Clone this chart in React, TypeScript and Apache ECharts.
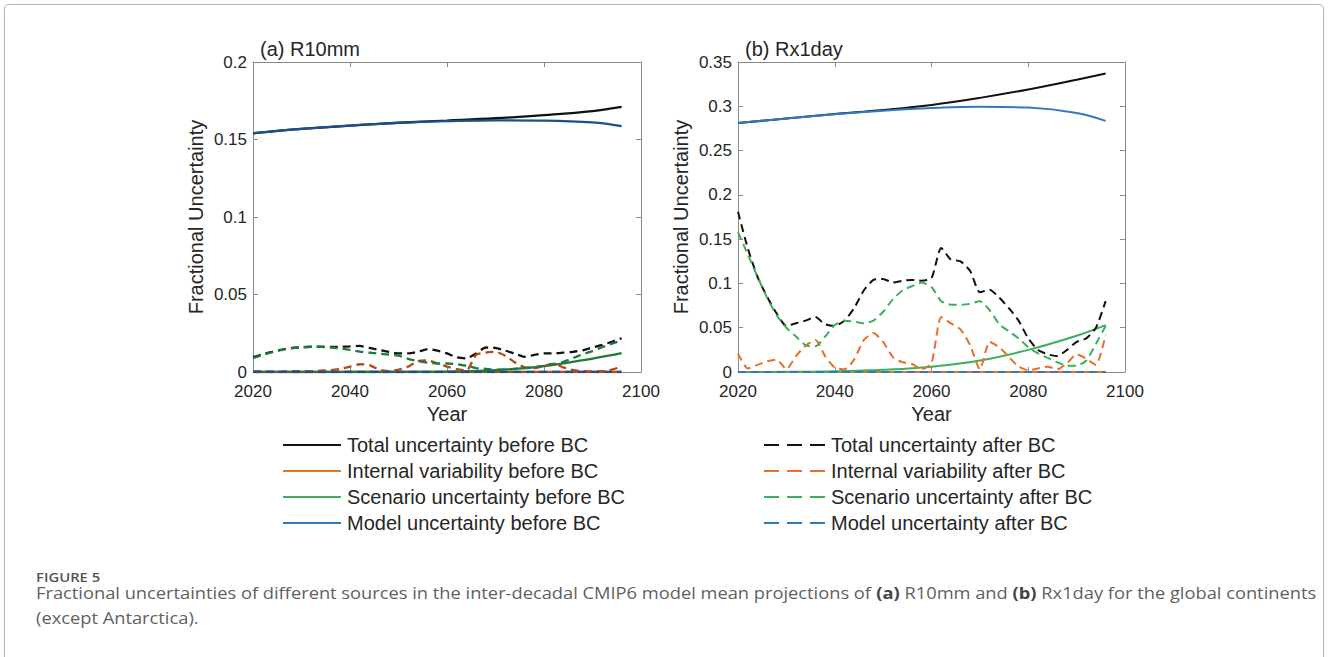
import React, { useEffect, useRef } from "react";
import * as echarts from "echarts";

// ---------- data ----------
const yearsFine = [
  2020, 2022, 2024, 2026, 2028, 2030, 2032, 2034, 2036, 2038, 2040, 2042, 2044,
  2046, 2048, 2050, 2052, 2054, 2056, 2058, 2060, 2062, 2064, 2066, 2068, 2070,
  2072, 2074, 2076, 2078, 2080, 2082, 2084, 2086, 2088, 2090, 2092, 2094, 2096,
];
const yearsCoarse = [2020, 2030, 2040, 2050, 2060, 2070, 2080, 2090, 2096];

// Panel (a) R10mm — before BC (smooth curves, coarse years)
const aTotalBefore = [0.154, 0.1568, 0.159, 0.1608, 0.1622, 0.1637, 0.1657, 0.1683, 0.171];
const aInternalBefore = [0, 0, 0, 0, 0, 0, 0, 0, 0];
const aScenarioBefore = [0, 0, 0, 0, 0.0002, 0.0012, 0.0038, 0.0087, 0.0122];
const aModelBefore = [0.154, 0.1568, 0.159, 0.1607, 0.1618, 0.1624, 0.1622, 0.161, 0.1586];

// Panel (a) R10mm — after BC (fine years)
const aTotalAfter = [
  0.0095, 0.0115, 0.013, 0.0145, 0.0155, 0.016, 0.0163, 0.0163, 0.0162, 0.0163,
  0.0165, 0.0168, 0.0155, 0.0142, 0.013, 0.012, 0.012, 0.013, 0.0148, 0.0138,
  0.012, 0.0095, 0.0088, 0.012, 0.0158, 0.0155, 0.0138, 0.0118, 0.0098, 0.011,
  0.012, 0.012, 0.0125, 0.013, 0.014, 0.0158, 0.0175, 0.0195, 0.0218,
];
const aInternalAfter = [
  0.0005, 0.0003, 0.0002, 0.0003, 0.0005, 0.0006, 0.0004, 0.0008, 0.0012, 0.002,
  0.0035, 0.005, 0.0045, 0.0015, 0.0005, 0.0015, 0.0035, 0.007, 0.0075, 0.0055,
  0.0035, 0.0018, 0.001, 0.011, 0.0125, 0.013, 0.0105, 0.0062, 0.003, 0.0025,
  0.004, 0.0052, 0.003, 0.0012, 0.0005, 0.0004, 0.0005, 0.0015, 0.0035,
];
const aScenarioAfter = [
  0.009, 0.011, 0.0128, 0.0143, 0.0153, 0.016, 0.0162, 0.0162, 0.0158, 0.0152,
  0.0142, 0.0131, 0.0125, 0.0118, 0.0112, 0.0105, 0.0085, 0.007, 0.006, 0.0055,
  0.0055, 0.005, 0.004, 0.0025, 0.002, 0.0015, 0.0015, 0.002, 0.0025, 0.003,
  0.004, 0.005, 0.0065, 0.009, 0.0115, 0.0135, 0.016, 0.0182, 0.0205,
];
const aModelAfter = [
  0, 0, 0, 0, 0, 0, 0, 0, 0, 0, 0, 0, 0, 0, 0, 0, 0, 0, 0, 0, 0, 0, 0, 0, 0, 0,
  0, 0, 0, 0, 0, 0, 0, 0, 0, 0, 0, 0, 0,
];

// Panel (b) Rx1day — before BC
const bTotalBefore = [0.281, 0.2862, 0.2912, 0.2958, 0.3015, 0.3095, 0.319, 0.33, 0.337];
const bInternalBefore = [0, 0, 0, 0, 0, 0, 0, 0, 0];
const bScenarioBefore = [0, 0.0002, 0.0008, 0.0025, 0.006, 0.013, 0.025, 0.041, 0.053];
const bModelBefore = [0.281, 0.2862, 0.291, 0.295, 0.298, 0.2995, 0.2985, 0.2925, 0.2835];

// Panel (b) Rx1day — after BC
const bTotalAfter = [
  0.181, 0.14, 0.108, 0.085, 0.066, 0.052, 0.055, 0.058, 0.062, 0.054, 0.052,
  0.058, 0.072, 0.092, 0.104, 0.105, 0.101, 0.103, 0.104, 0.103, 0.106, 0.14,
  0.127, 0.125, 0.114, 0.09, 0.093, 0.084, 0.072, 0.058, 0.038, 0.025, 0.02,
  0.018, 0.025, 0.034, 0.038, 0.05, 0.08,
];
const bInternalAfter = [
  0.021, 0.004, 0.008, 0.012, 0.014, 0.003, 0.018, 0.03, 0.036, 0.018, 0.005,
  0.003, 0.014, 0.036, 0.044, 0.034, 0.017, 0.011, 0.009, 0.003, 0.01, 0.062,
  0.055, 0.048, 0.03, 0.003, 0.034, 0.028, 0.017, 0.006, 0.002, 0.004, 0.006,
  0.003, 0.01, 0.02, 0.015, 0.008, 0.042,
];
const bScenarioAfter = [
  0.158, 0.133, 0.108, 0.084, 0.064, 0.05, 0.04, 0.03, 0.029, 0.04, 0.053,
  0.058, 0.057, 0.055, 0.058, 0.068, 0.082, 0.092, 0.097, 0.101, 0.096, 0.08,
  0.076, 0.076, 0.077, 0.08, 0.07, 0.054, 0.046, 0.038, 0.028, 0.021, 0.016,
  0.011, 0.007, 0.007, 0.013, 0.032, 0.052,
];
const bModelAfter = [
  0, 0, 0, 0, 0, 0, 0, 0, 0, 0, 0, 0, 0, 0, 0, 0, 0, 0, 0, 0, 0, 0, 0, 0, 0, 0,
  0, 0, 0, 0, 0, 0, 0, 0, 0, 0, 0, 0, 0,
];

const namesBefore = [
  "Total uncertainty before BC",
  "Internal variability before BC",
  "Scenario uncertainty before BC",
  "Model uncertainty before BC",
];
const namesAfter = [
  "Total uncertainty after BC",
  "Internal variability after BC",
  "Scenario uncertainty after BC",
  "Model uncertainty after BC",
];
const panelTitles = ["(a) R10mm", "(b) Rx1day"];
const xTicks = { min: 2020, max: 2100, interval: 20 };
const yMaxA = 0.2;
const yMaxB = 0.35;

// ---------- styles ----------
const colorsB = ["#111111", "#e8702a", "#3dae5a", "#2f79bf"];
const colorsA = ["#111111", "#b5471d", "#1f7a3a", "#1d4f91"];
const AXIS_GRAY = "#8a8a8a";
const TEXT = "#262626";
const FONT = "Liberation Sans, Arial, sans-serif";
const CAPTION_FONT = "Open Sans, Noto Sans, sans-serif";

const pairs = (xs: number[], ys: number[]) => xs.map((x, i) => [x, ys[i]]);

function App() {
  const ref = useRef<HTMLDivElement>(null);

  useEffect(() => {
    if (!ref.current) return;
    const chart = echarts.init(ref.current, null, { renderer: "svg" });

    const grids = [
      { left: 253, top: 62, width: 388, height: 310 },
      { left: 738, top: 62, width: 387, height: 310 },
    ];

    const mkX = (gi: number, mirror: boolean) => ({
      type: "value",
      gridIndex: gi,
      position: mirror ? "top" : "bottom",
      min: xTicks.min,
      max: xTicks.max,
      interval: xTicks.interval,
      name: mirror ? "" : "Year",
      nameLocation: "middle",
      nameGap: 32,
      nameTextStyle: { fontFamily: FONT, fontSize: 20, color: TEXT },
      axisLine: { show: true, onZero: false, lineStyle: { color: AXIS_GRAY, width: 1 } },
      axisTick: { show: true, inside: true, length: 5, lineStyle: { color: AXIS_GRAY } },
      axisLabel: {
        show: !mirror,
        fontFamily: FONT,
        fontSize: 17,
        color: TEXT,
        margin: 11,
        showMaxLabel: true,
        showMinLabel: true,
        formatter: (v: number) => String(v),
      },
      splitLine: { show: false },
    });
    const mkY = (gi: number, max: number, mirror: boolean) => ({
      type: "value",
      gridIndex: gi,
      position: mirror ? "right" : "left",
      min: 0,
      max,
      interval: 0.05,
      name: mirror ? "" : "Fractional Uncertainty",
      nameLocation: "middle",
      nameGap: 47,
      nameTextStyle: { fontFamily: FONT, fontSize: 20, color: TEXT },
      axisLine: { show: true, onZero: false, lineStyle: { color: AXIS_GRAY, width: 1 } },
      axisTick: { show: true, inside: true, length: 5, lineStyle: { color: AXIS_GRAY } },
      axisLabel: {
        show: !mirror,
        fontFamily: FONT,
        fontSize: 17,
        color: TEXT,
        margin: 6,
      },
      splitLine: { show: false },
    });

    const xAxis = [mkX(0, false), mkX(0, true), mkX(1, false), mkX(1, true)];
    const yAxis = [
      mkY(0, yMaxA, false),
      mkY(0, yMaxA, true),
      mkY(1, yMaxB, false),
      mkY(1, yMaxB, true),
    ];

    const panels = [
      {
        before: [aTotalBefore, aInternalBefore, aScenarioBefore, aModelBefore],
        after: [aTotalAfter, aInternalAfter, aScenarioAfter, aModelAfter],
        colors: colorsA,
        xi: 0,
        yi: 0,
        w: 2.3,
      },
      {
        before: [bTotalBefore, bInternalBefore, bScenarioBefore, bModelBefore],
        after: [bTotalAfter, bInternalAfter, bScenarioAfter, bModelAfter],
        colors: colorsB,
        xi: 2,
        yi: 2,
        w: 2,
      },
    ];

    // legend colours come from panel (b) so put panel (b) first
    const series: any[] = [];
    [panels[1], panels[0]].forEach((p) => {
      p.before.forEach((vals, k) => {
        series.push({
          type: "line",
          name: namesBefore[k],
          xAxisIndex: p.xi,
          yAxisIndex: p.yi,
          data: pairs(yearsCoarse, vals),
          smooth: 0.4,
          symbol: "none",
          lineStyle: { color: p.colors[k], width: p.w },
          itemStyle: { color: p.colors[k] },
          z: 2,
        });
      });
      p.after.forEach((vals, k) => {
        series.push({
          type: "line",
          name: namesAfter[k],
          xAxisIndex: p.xi,
          yAxisIndex: p.yi,
          data: pairs(yearsFine, vals),
          smooth: 0.2,
          symbol: "none",
          lineStyle: { color: p.colors[k], width: p.w, type: [8, 5] },
          itemStyle: { color: p.colors[k] },
          z: 3,
        });
      });
    });

    const legendCommon = {
      orient: "vertical",
      padding: 0,
      itemHeight: 2,
      itemGap: 6,
      selectedMode: false,
      symbolKeepAspect: false,
      textStyle: {
        fontFamily: FONT,
        fontSize: 20,
        color: TEXT,
        lineHeight: 20,
        padding: [0, 0, 0, 1],
      },
    };

    chart.setOption({
      animation: false,
      backgroundColor: "#ffffff",
      grid: grids,
      xAxis,
      yAxis,
      series,
      legend: [
        {
          ...legendCommon,
          left: 283,
          top: 435,
          itemWidth: 58,
          icon: "path://M0,0h58v2h-58z",
          data: namesBefore,
        },
        {
          ...legendCommon,
          left: 764,
          top: 435,
          itemWidth: 61,
          icon: "path://M0,0h15v2h-15zM23,0h15v2h-15zM46,0h15v2h-15z",
          data: namesAfter,
        },
      ],
      graphic: [
        {
          type: "rect",
          shape: { x: 4.5, y: 4.5, width: 1319, height: 670, r: 4 },
          style: { fill: "none", stroke: "#b5b5b5", lineWidth: 1 },
          silent: true,
        },
        {
          type: "text",
          x: 260,
          y: 49,
          style: {
            text: panelTitles[0],
            fontFamily: FONT,
            fontSize: 20,
            fill: TEXT,
            verticalAlign: "middle",
          },
        },
        {
          type: "text",
          x: 745,
          y: 49,
          style: {
            text: panelTitles[1],
            fontFamily: FONT,
            fontSize: 20,
            fill: TEXT,
            verticalAlign: "middle",
          },
        },
        {
          type: "text",
          x: 36,
          y: 577,
          scaleX: 1.14,
          style: {
            text: "FIGURE 5",
            fontFamily: CAPTION_FONT,
            fontWeight: 600,
            fontSize: 13,
            lineHeight: 13,
            fill: "#555555",
            verticalAlign: "middle",
          },
        },
        {
          type: "text",
          x: 36,
          y: 593,
          scaleX: 1.143,
          style: {
            text:
              "{n|Fractional uncertainties of different sources in the inter-decadal CMIP6 model mean projections of }{b|(a)}{n| R10mm and }{b|(b)}{n| Rx1day for the global continents}",
            verticalAlign: "middle",
            rich: {
              n: {
                fontFamily: CAPTION_FONT,
                fontSize: 16,
                lineHeight: 17,
                fill: "#5f5f5f",
              },
              b: {
                fontFamily: CAPTION_FONT,
                fontSize: 16,
                lineHeight: 17,
                fontWeight: "bold",
                fill: "#444444",
              },
            },
          },
        },
        {
          type: "text",
          x: 36,
          y: 618,
          scaleX: 1.143,
          style: {
            text: "(except Antarctica).",
            fontFamily: CAPTION_FONT,
            fontSize: 16,
            lineHeight: 17,
            fill: "#5f5f5f",
            verticalAlign: "middle",
          },
        },
      ],
    });

    return () => chart.dispose();
  }, []);

  return (
    <div
      ref={ref}
      style={{ position: "fixed", left: 0, top: 0, width: 1328, height: 657, background: "#fff" }}
    />
  );
}

export default App;
